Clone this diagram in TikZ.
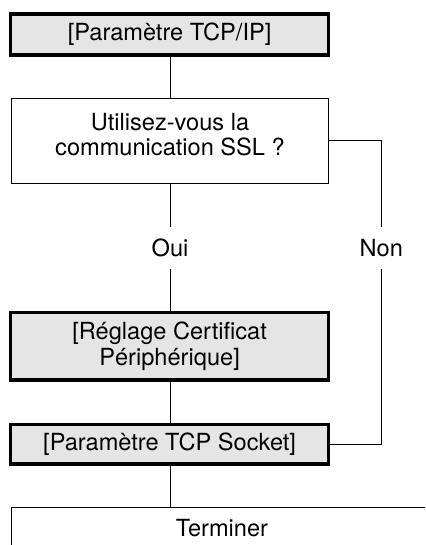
\documentclass[tikz,border=0pt]{standalone}
\usepackage{fontspec}
\setmainfont{TeX Gyre Heros}
\definecolor{boxgray}{RGB}{229,229,229}
\begin{document}
\begin{tikzpicture}[x=1pt,y=-1pt,
  every node/.style={font=\fontsize{23.6}{25.5}\selectfont, inner sep=0pt, outer sep=0pt},
  thickbox/.style={draw, line width=3.3pt, fill=boxgray, minimum width=317.7pt, align=center},
  thinbox/.style={draw, line width=1pt, fill=white, align=center},
  conn/.style={line width=1pt},
  lbl/.style={minimum height=42pt}]
\useasboundingbox (0,0) rectangle (425,545);
\clip (0,0) rectangle (425,545);
\node[thickbox, minimum height=41pt] (b1) at (169.6,34.5) {[Paramètre TCP/IP]};
\node[thinbox, minimum width=317.3pt, minimum height=85pt] (q) at (169.7,140.8) {};
\node[align=center] (qt) at (170,134.5) {Utilisez-vous la\\communication SSL ?};
\node[lbl] (oui) at (170,248) {Oui};
\node[lbl] (non) at (381.3,248) {Non};
\node[thickbox, minimum height=67.3pt] (b3) at (169.6,346.3) {[Réglage Certificat\\Périphérique]};
\node[thickbox, minimum height=39.7pt] (b4) at (169.6,444.2) {[Paramètre TCP Socket]};
\node[thinbox, minimum width=422pt, minimum height=41.4pt] (b5) at (222,528) {Terminer};
\draw[conn] (b1.south -| qt) -- (q.north -| qt);
\draw[conn] (q.south -| qt) -- (oui.north);
\draw[conn] (oui.south) -- (b3.north -| oui);
\draw[conn] (b3.south -| oui) -- (b4.north -| oui);
\draw[conn] (b4.south -| oui) -- (b5.north -| oui);
\draw[conn] (q.east) -| (non.north);
\draw[conn] (non.south) |- (b4.east);
\end{tikzpicture}
\end{document}
